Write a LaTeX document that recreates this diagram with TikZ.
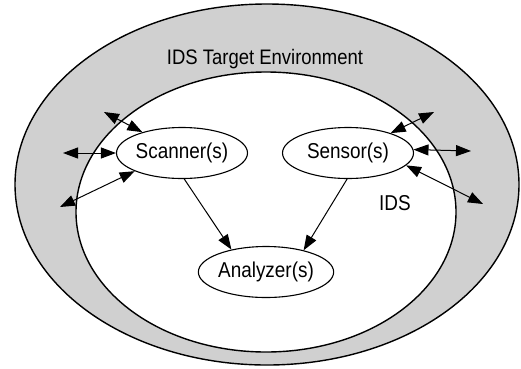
\documentclass[tikz,border=0pt]{standalone}
\usepackage{fontspec}
\setmainfont{Liberation Sans}
\usetikzlibrary{shapes.geometric,arrows.meta}
\definecolor{envgray}{HTML}{D0D0D0}
\newcommand{\narrowtxt}[1]{\scalebox{0.88}[1]{#1}}
\tikzset{
  comp/.style={draw=black, line width=1.1pt, ellipse, fill=white, inner sep=0pt,
    minimum width=131pt, minimum height=51pt, font=\fontsize{21.5}{24}\selectfont},
  region/.style={draw=black, line width=1.4pt, ellipse, inner sep=0pt},
  lbl/.style={font=\fontsize{21.5}{24}\selectfont, inner sep=0pt, anchor=base},
  dbl/.style={line width=1pt, {Triangle[length=15pt,width=11pt]}-{Triangle[length=15pt,width=11pt]}},
  one/.style={line width=1pt, -{Triangle[length=15pt,width=11pt]}}
}
\begin{document}
\begin{tikzpicture}[x=1pt,y=-1pt]
\useasboundingbox (0,0) rectangle (521,368);
\node[region, fill=envgray, minimum width=504pt, minimum height=361pt] (env) at (267,184.5) {};
\node[region, fill=white, minimum width=380pt, minimum height=280pt] (ids) at (266,212) {};
\node[lbl, font=\fontsize{21}{25}\selectfont] (envlbl) at (265,64) {\narrowtxt{IDS Target Environment}};
\node[lbl] (idslbl) at (395,210) {\narrowtxt{IDS}};
\node[comp] (scan) at (182,153) {\raisebox{-2pt}{\narrowtxt{Scanner(s)}}};
\node[comp] (sens) at (348,153) {\raisebox{-2pt}{\narrowtxt{Sensor(s)}}};
\node[comp] (anal) at (266,272) {\raisebox{-2pt}{\narrowtxt{Analyzer(s)}}};
\coordinate (l1) at (104,112);
\coordinate (l2) at (63,153);
\coordinate (l3) at (60,207);
\coordinate (r1) at (434,112);
\coordinate (r2) at (471,151);
\coordinate (r3) at (483,204);
\draw[dbl] (l1) -- (scan);
\draw[dbl] (l2) -- (scan.180);
\draw[dbl] (l3) -- (scan.201);
\draw[dbl] (r1) -- (sens.25);
\draw[dbl] (r2) -- (sens.3);
\draw[dbl] (r3) -- (sens.-12);
\draw[one] (scan.-85) -- (anal.147);
\draw[one] (sens.-92) -- (anal.30);
\end{tikzpicture}
\end{document}
